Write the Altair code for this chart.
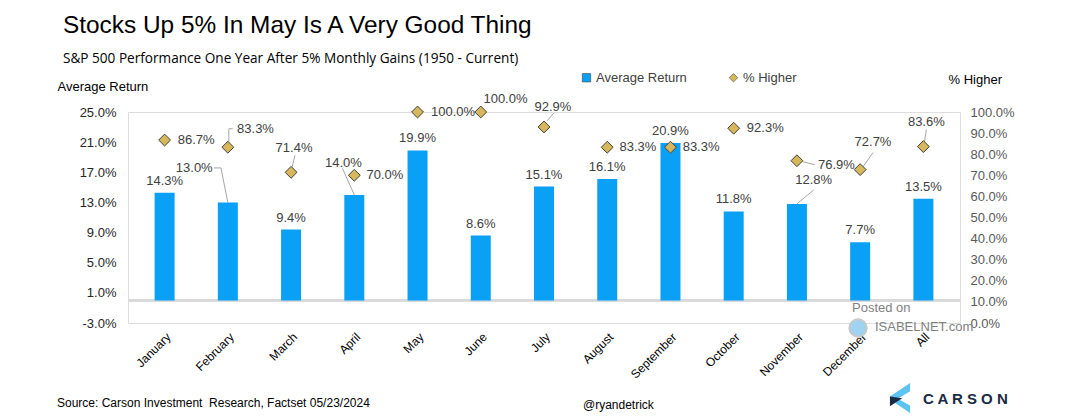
import json
import altair as alt
import pandas as pd

# ---------------- data ----------------
MONTHS = ["January", "February", "March", "April", "May", "June", "July",
          "August", "September", "October", "November", "December", "All"]
AVG_RETURN = [14.3, 13.0, 9.4, 14.0, 19.9, 8.6, 15.1, 16.1, 20.9, 11.8, 12.8, 7.7, 13.5]
PCT_HIGHER = [86.7, 83.3, 71.4, 70.0, 100.0, 100.0, 92.9, 83.3, 83.3, 92.3, 76.9, 72.7, 83.6]
LEFT_TICKS = [-3, 1, 5, 9, 13, 17, 21, 25]
RIGHT_TICKS = [0, 10, 20, 30, 40, 50, 60, 70, 80, 90, 100]
SERIES = ["Average Return", "% Higher"]

TITLE = "Stocks Up 5% In May Is A Very Good Thing"
SUBTITLE = "S&P 500 Performance One Year After 5% Monthly Gains (1950 - Current)"
SOURCE = "Source: Carson Investment\u00a0 Research, Factset 05/23/2024"
HANDLE = "@ryandetrick"
POSTED = "Posted on"
SITE = "ISABELNET.com"
BRAND = "C A R S O N"

# ---------------- label placement (pixels, relative to bar top / diamond) ----------------
BAR_LABEL_OFFSETS = [(0, -12), (-34, -34), (0, -12), (-11, -32), (0, -12), (0, -12), (0, -12),
                     (0, -12), (0, -12), (0, -12), (17, -24), (0, -12), (0, -12)]
HI_LABEL_OFFSETS = [(32, 0), (28, -18), (3, -24), (31, 0), (36, 0), (25, -13), (9, -20),
                    (31, 0), (31, 0), (32, 0), (40, 4), (13, -28), (3, -25)]
# (index, x1, y1, x2, y2) in pixels
BAR_LEADERS = [(1, -14, -34.5, -7, -34.5), (1, -7, -34.5, 0, 0), (3, -12, -26.5, 0, 0),
               (10, 0, 0, 17, -14)]
HI_LEADERS = [(1, 1, -5, 1, -18.5), (1, 1, -18.5, 5, -18.5), (2, 1, -5, 4, -17),
              (6, 3, -6, 10, -14), (10, 6, 1, 18, 4), (11, 3, -3, 13, -17), (12, 1, -4, 3, -17)]

W, H = 832, 211
PXX = W / len(MONTHS)
PXL = H / (LEFT_TICKS[-1] - LEFT_TICKS[0])
PXR = H / (RIGHT_TICKS[-1] - RIGHT_TICKS[0])

BLUE = "#0AA0F6"
GOLD = "#D7B75B"
FONT = "Liberation Sans"
PCT_EXPR = "(datum.value < 0 ? '-' : '') + format(abs(datum.value), '.1f') + '%'"

rows = []
for i, (m, r, h) in enumerate(zip(MONTHS, AVG_RETURN, PCT_HIGHER)):
    bdx, bdy = BAR_LABEL_OFFSETS[i]
    hdx, hdy = HI_LABEL_OFFSETS[i]
    rows.append(dict(month=m, i=i, ret=r, hi=h,
                     blx=i + bdx / PXX, bly=r - bdy / PXL,
                     hlx=i + hdx / PXX, hly=h - hdy / PXR,
                     rlab=f"{r:.1f}%", hlab=f"{h:.1f}%",
                     series="% Higher"))
df = pd.DataFrame(rows)

bl = pd.DataFrame([dict(x=i + a / PXX, x2=i + c / PXX,
                        y=AVG_RETURN[i] - b / PXL, y2=AVG_RETURN[i] - d / PXL)
                   for i, a, b, c, d in BAR_LEADERS])
hl = pd.DataFrame([dict(x=i + a / PXX, x2=i + c / PXX,
                        y=PCT_HIGHER[i] - b / PXR, y2=PCT_HIGHER[i] - d / PXR)
                   for i, a, b, c, d in HI_LEADERS])

xscale = alt.Scale(domain=[-0.5, len(MONTHS) - 0.5], nice=False, zero=False)
lscale = alt.Scale(domain=[LEFT_TICKS[0], LEFT_TICKS[-1]], nice=False, zero=False)
rscale = alt.Scale(domain=[RIGHT_TICKS[0], RIGHT_TICKS[-1]], nice=False, zero=False)

xaxis = alt.Axis(values=list(range(len(MONTHS))),
                 labelExpr=json.dumps(MONTHS) + "[datum.value]",
                 labelAngle=-45, labelAlign="right", labelBaseline="top",
                 labelFont=FONT, labelFontSize=12, labelColor="black",
                 labelPadding=8, labelFlush=False, labelOverlap=False, labelBound=False,
                 ticks=False, domain=False, grid=False, title="")

laxis = alt.Axis(values=LEFT_TICKS, labelExpr=PCT_EXPR,
                 labelFont=FONT, labelFontSize=13, labelColor="#262626", labelPadding=12,
                 ticks=False, domain=False, grid=False,
                 title="Average Return", titleAngle=0, titleX=-71, titleY=-26,
                 titleAlign="left", titleBaseline="middle", titleFont=FONT,
                 titleFontSize=13, titleFontWeight="normal", titleColor="black")

raxis = alt.Axis(orient="right", values=RIGHT_TICKS, labelExpr=PCT_EXPR,
                 labelFont=FONT, labelFontSize=13, labelColor="#595959", labelPadding=10,
                 ticks=False, domain=False, grid=False,
                 title="% Higher", titleAngle=0, titleX=-12, titleY=-33,
                 titleAlign="left", titleBaseline="middle", titleFont=FONT,
                 titleFontSize=13, titleFontWeight="normal", titleColor="black")

XT, LT, RT = "", "Average Return", "% Higher"

base = alt.Chart(df)

baseline = base.mark_rule(color="#D9D9D9", strokeWidth=2).encode(
    y=alt.Y(datum=0, scale=lscale, axis=laxis, title=LT))

bars = base.mark_bar(size=20, color=BLUE).encode(
    x=alt.X("i:Q", scale=xscale, axis=xaxis, title=XT),
    y=alt.Y("ret:Q", scale=lscale, axis=laxis, title=LT),
)
bar_labels = base.mark_text(font=FONT, fontSize=13, color="#404040",
                            align="center", baseline="middle").encode(
    x=alt.X("blx:Q", scale=xscale, axis=xaxis, title=XT),
    y=alt.Y("bly:Q", scale=lscale, axis=laxis, title=LT),
    text="rlab:N",
)
bar_leaders = alt.Chart(bl).mark_rule(color="#A6A6A6", strokeWidth=1).encode(
    x=alt.X("x:Q", scale=xscale, axis=xaxis, title=XT), x2="x2:Q",
    y=alt.Y("y:Q", scale=lscale, axis=laxis, title=LT), y2="y2:Q",
)
left = alt.layer(baseline, bars, bar_leaders, bar_labels)

diamonds = base.mark_point(filled=True, size=140, stroke="#404040", strokeWidth=1,
                           opacity=1).encode(
    x=alt.X("i:Q", scale=xscale, axis=xaxis, title=XT),
    y=alt.Y("hi:Q", scale=rscale, axis=raxis, title=RT),
    color=alt.Color("series:N", scale=alt.Scale(domain=SERIES, range=[BLUE, GOLD]),
                    legend=alt.Legend(title=None, orient="none", legendX=452, legendY=-41,
                                      direction="horizontal", labelFont=FONT,
                                      labelFontSize=13, labelColor="#404040",
                                      symbolSize=70, labelOffset=3, columnPadding=40,
                                      symbolStrokeWidth=0.6)),
    shape=alt.Shape("series:N", scale=alt.Scale(domain=SERIES, range=["square", "diamond"]),
                    legend=None),
)
hi_labels = base.mark_text(font=FONT, fontSize=13, color="#404040",
                           align="center", baseline="middle").encode(
    x=alt.X("hlx:Q", scale=xscale, axis=xaxis, title=XT),
    y=alt.Y("hly:Q", scale=rscale, axis=raxis, title=RT),
    text="hlab:N",
)
hi_leaders = alt.Chart(hl).mark_rule(color="#A6A6A6", strokeWidth=1).encode(
    x=alt.X("x:Q", scale=xscale, axis=xaxis, title=XT), x2="x2:Q",
    y=alt.Y("y:Q", scale=rscale, axis=raxis, title=RT), y2="y2:Q",
)
right = alt.layer(hi_leaders, diamonds, hi_labels)


def note(text, x, y, size=12, color="black", weight="normal", font=FONT):
    return alt.Chart(pd.DataFrame({"t": [text]})).mark_text(
        align="left", baseline="middle", font=font, fontSize=size, color=color,
        fontWeight=weight).encode(text="t:N", x=alt.value(x), y=alt.value(y))


def shape(path, x, y, size, color):
    return alt.Chart(pd.DataFrame({"t": [0]})).mark_point(
        shape=path, filled=True, size=size, color=color, opacity=1).encode(
        x=alt.value(x), y=alt.value(y))


notes = [
    note(SOURCE, -71, 291),
    note(HANDLE, 455, 293),
    note(POSTED, 724, 196, size=13, color="#7F7F7F"),
    note(SITE, 747, 215, size=13, color="#7F7F7F"),
    alt.Chart(pd.DataFrame({"t": [0]})).mark_point(
        shape="circle", filled=True, size=300, color="#9FD3F0", stroke="#C8C8C8",
        strokeWidth=2, opacity=1).encode(x=alt.value(730), y=alt.value(216)),
    shape("M 0.67,-1 L 0.67,-0.45 L -0.15,0.05 L 0.67,0.5 L 0.67,1 L -0.67,0.1 L -0.67,-0.1 Z",
          772, 286, 900, "#5CC3F2"),
    shape("M -0.67,-0.1 L 0.15,0.02 L -0.67,0.55 Z", 772, 286, 900, "#1B2A45"),
    note(BRAND, 795, 287, size=15, color="#1B2A45", weight="bold"),
]

chart = alt.layer(left, right, *notes).resolve_scale(y="independent").properties(
    width=W, height=H,
    padding={"left": 128, "top": 112, "right": 120, "bottom": 97},
    autosize=alt.AutoSizeParams(type="none"),
    title=alt.TitleParams(text=TITLE, subtitle=SUBTITLE, anchor="start", frame="bounds",
                          font=FONT, fontSize=24.4, fontWeight="normal", color="black",
                          subtitleFont="Open Sans", subtitleFontSize=13.6,
                          subtitleColor="black", subtitlePadding=14, dx=6, offset=4),
).configure_view(strokeWidth=0, stroke="transparent").configure(background="white")

chart.save("out.html", embed_options={"renderer": "svg", "actions": False})
